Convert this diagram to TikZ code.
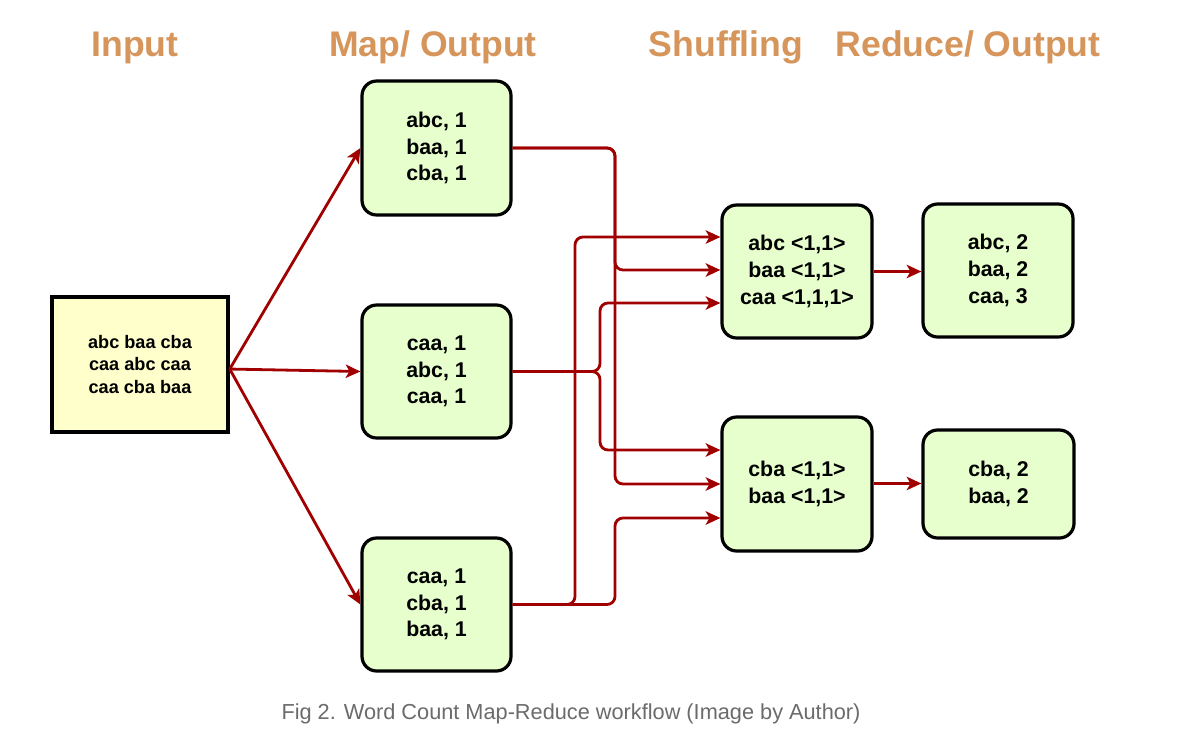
\documentclass[tikz,border=0pt]{standalone}
\usepackage{fontspec}
\setmainfont{Liberation Sans}
\usetikzlibrary{arrows.meta}
\definecolor{hdr}{HTML}{D6955B}
\definecolor{lnred}{HTML}{A00000}
\definecolor{mapfill}{HTML}{E6FFCC}
\definecolor{inpfill}{HTML}{FFFFCC}
\definecolor{capgray}{HTML}{6B6B6B}
\begin{document}
\begin{tikzpicture}[x=0.75pt,y=-0.75pt,
 box/.style={draw=black, line width=2.4pt, fill=mapfill, rounded corners=11pt, inner sep=0pt, align=center, font=\bfseries\fontsize{16}{20}\selectfont},
 inbox/.style={draw=black, line width=2.6pt, fill=inpfill, inner sep=0pt, align=center, font=\bfseries\fontsize{13.6}{16.8}\selectfont},
 hdrtext/.style={text=hdr, font=\bfseries\fontsize{26.7}{30}\selectfont, anchor=base, inner sep=0pt},
 captext/.style={text=capgray, font=\fontsize{16.3}{20}\selectfont, anchor=base, inner sep=0pt},
 conn/.style={draw=lnred, line width=2.1pt, rounded corners=6pt, -{Stealth[length=11pt,width=10pt,inset=2.8pt]}},
]
\useasboundingbox[fill=white] (0,0) rectangle (1177,736);

% headers
\node[hdrtext] (hin) at (135,56) {Input};
\node[hdrtext] (hmap) at (433,56) {Map/ Output};
\node[hdrtext] (hsh) at (726,56) {Shuffling};
\node[hdrtext] (hred) at (968,56) {Reduce/ Output};

% boxes
\node[inbox, minimum width=132pt, minimum height=101.25pt] (inp) at (140,364.5) {abc baa cba\\caa abc caa\\caa cba baa};

\node[box, minimum width=111.75pt, minimum height=100.5pt] (m1) at (436.5,148) {abc, 1\\baa, 1\\cba, 1};
\node[box, minimum width=111.75pt, minimum height=99.75pt] (m2) at (436.5,371.5) {caa, 1\\abc, 1\\caa, 1};
\node[box, minimum width=111.75pt, minimum height=99.75pt] (m3) at (436.5,604.5) {caa, 1\\cba, 1\\baa, 1};

\node[box, minimum width=112.5pt, minimum height=99.75pt] (s1) at (797,271.5) {abc <1,1>\\baa <1,1>\\caa <1,1,1>};
\node[box, minimum width=112.5pt, minimum height=100.5pt] (s2) at (797,484) {cba <1,1>\\baa <1,1>};

\node[box, minimum width=112.5pt, minimum height=99.75pt] (r1) at (998,270.5) {abc, 2\\baa, 2\\caa, 3};
\node[box, minimum width=113.25pt, minimum height=81pt] (r2) at (998.5,484) {cba, 2\\baa, 2};

% input to map
\coordinate (inout) at ([yshift=-3.4pt]inp.east);
\draw[conn] (inout) -- (m1.west);
\draw[conn] (inout) -- (m2.west);
\draw[conn] (inout) -- (m3.west);

% map to shuffle
\draw[conn] (m1.east) -- (615,148) -- (615,270) -- (s1.west |- 0,270);
\draw[conn] (m1.east) -- (615,148) -- (615,484) -- (s2.west |- 0,484);
\draw[conn] (m2.east) -- (600,371.5) -- (600,303) -- (s1.west |- 0,303);
\draw[conn] (m2.east) -- (600,371.5) -- (600,450) -- (s2.west |- 0,450);
\draw[conn] (m3.east) -- (575,604.5) -- (575,237) -- (s1.west |- 0,237);
\draw[conn] (m3.east) -- (615,604.5) -- (615,518) -- (s2.west |- 0,518);

% shuffle to reduce
\draw[conn] (s1.east) -- (r1.west |- s1.east);
\coordinate (s2out) at ([yshift=0.4pt]s2.east);
\draw[conn] (s2out) -- (r2.west |- s2out);

% caption
\node[captext] (cap) at (571,719) {Fig 2. Word Count Map-Reduce workflow (Image by Author)};
\end{tikzpicture}
\end{document}
